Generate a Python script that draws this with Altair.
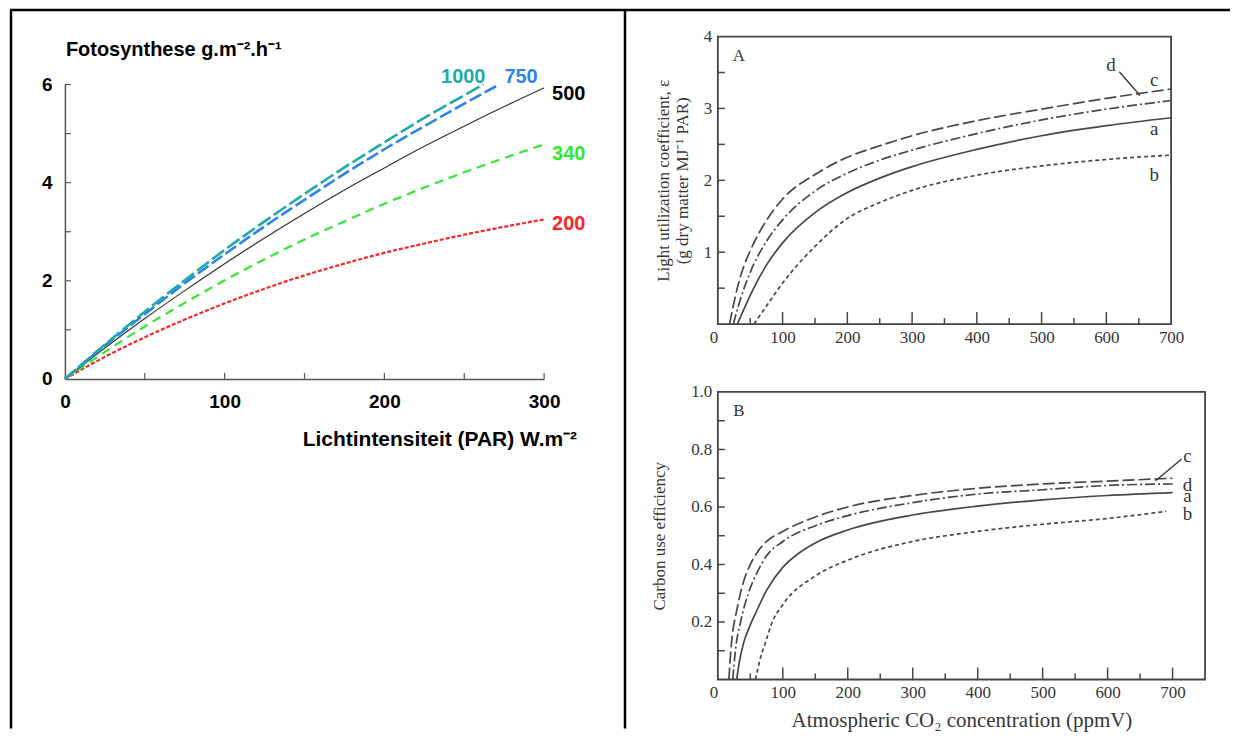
import altair as alt
import pandas as pd

# ---------------- Left panel data ----------------
PAR = [0, 25, 50, 75, 100, 125, 150, 175, 200, 225, 250, 275, 300]
P200 = [0, 0.45, 0.85, 1.21, 1.54, 1.84, 2.11, 2.35, 2.57, 2.76, 2.94, 3.10, 3.25]
P340 = [0, 0.55, 1.07, 1.55, 2.01, 2.44, 2.84, 3.21, 3.57, 3.90, 4.21, 4.50, 4.78]
P500 = [0, 0.63, 1.23, 1.80, 2.35, 2.87, 3.37, 3.85, 4.30, 4.74, 5.15, 5.55, 5.93]
PAR750 = [0, 25, 50, 75, 100, 125, 150, 175, 200, 225, 250, 272]
P750 = [0, 0.68, 1.32, 1.95, 2.54, 3.11, 3.65, 4.18, 4.68, 5.15, 5.61, 6.0]
PAR1000 = [0, 25, 50, 75, 100, 125, 150, 175, 200, 225, 250, 262]
P1000 = [0, 0.70, 1.37, 2.01, 2.63, 3.21, 3.77, 4.31, 4.82, 5.32, 5.78, 6.0]
LEFT_XLABELS = [0, 100, 200, 300]
LEFT_YLABELS = [0, 2, 4, 6]
LEFT_XTICKS = [50, 100, 150, 200, 250, 300]
LEFT_YTICKS = [1, 2, 3, 4, 5, 6]
LEFT_TITLE = "Fotosynthese g.m⁻².h⁻¹"
LEFT_XTITLE = "Lichtintensiteit (PAR) W.m⁻²"

# ---------------- Right panel A data ----------------
A_C_X = [18, 25, 30, 40, 50, 75, 100, 150, 200, 250, 300, 400, 500, 600, 700]
A_C_Y = [0, 0.3, 0.5, 0.8, 1.02, 1.44, 1.74, 2.08, 2.32, 2.48, 2.62, 2.83, 2.99, 3.14, 3.27]
A_D_X = [24, 30, 35, 50, 75, 100, 150, 200, 250, 300, 400, 500, 600, 700]
A_D_Y = [0, 0.2, 0.35, 0.72, 1.15, 1.45, 1.85, 2.1, 2.28, 2.42, 2.65, 2.84, 2.99, 3.11]
A_A_X = [30, 40, 50, 75, 100, 150, 200, 250, 300, 400, 500, 600, 700]
A_A_Y = [0, 0.2, 0.4, 0.82, 1.13, 1.55, 1.83, 2.03, 2.19, 2.43, 2.62, 2.76, 2.87]
A_B_X = [56, 75, 100, 150, 200, 250, 300, 400, 500, 600, 700]
A_B_Y = [0, 0.25, 0.57, 1.08, 1.47, 1.69, 1.86, 2.07, 2.2, 2.29, 2.35]
A_LBL = ["d", "c", "a", "b"]
A_LBL_X = [607, 674, 674, 674]
A_LBL_Y = [3.61, 3.40, 2.71, 2.08]
A_LEAD_X = [620, 652]
A_LEAD_Y = [3.51, 3.18]
A_XLABELS = [0, 100, 200, 300, 400, 500, 600, 700]
A_YLABELS = [1, 2, 3, 4]
A_XTICKS = [50, 100, 150, 200, 250, 300, 350, 400, 450, 500, 550, 600, 650]
A_YTICKS = [0.5, 1, 1.5, 2, 2.5, 3, 3.5]
A_YTITLE = ["Light utilization coefficient, ε", "(g dry matter MJ⁻¹ PAR)"]

# ---------------- Right panel B data ----------------
B_C_X = [17, 20, 30, 41, 50, 60, 75, 100, 150, 200, 300, 400, 500, 600, 700]
B_C_Y = [0, 0.1, 0.25, 0.35, 0.40, 0.44, 0.48, 0.515, 0.565, 0.6, 0.64, 0.665, 0.68, 0.69, 0.70]
B_D_X = [23, 27, 35, 47, 60, 75, 100, 150, 200, 300, 400, 500, 600, 700]
B_D_Y = [0, 0.1, 0.2, 0.3, 0.37, 0.43, 0.48, 0.535, 0.57, 0.615, 0.645, 0.66, 0.675, 0.68]
B_A_X = [29, 33, 40, 50, 60, 75, 100, 125, 150, 200, 300, 400, 500, 600, 700]
B_A_Y = [0, 0.06, 0.13, 0.19, 0.24, 0.31, 0.39, 0.44, 0.475, 0.52, 0.572, 0.603, 0.625, 0.64, 0.65]
B_B_X = [58, 65, 75, 82, 100, 150, 200, 300, 400, 500, 600, 690]
B_B_Y = [0, 0.07, 0.14, 0.19, 0.26, 0.36, 0.415, 0.48, 0.515, 0.54, 0.56, 0.585]
B_LBL = ["c", "d", "a", "b"]
B_LBL_X = [723, 723, 723, 723]
B_LBL_Y = [0.778, 0.677, 0.639, 0.576]
B_LEAD_X = [714, 674]
B_LEAD_Y = [0.767, 0.691]
B_XLABELS = [0, 100, 200, 300, 400, 500, 600, 700]
B_YLABELS = [0.2, 0.4, 0.6, 0.8, 1.0]
B_XTICKS = [50, 100, 150, 200, 250, 300, 350, 400, 450, 500, 550, 600, 650, 700]
B_YTICKS = [0.1, 0.2, 0.3, 0.4, 0.5, 0.6, 0.7, 0.8, 0.9]
B_YTITLE = "Carbon use efficiency"
B_XTITLE = "Atmospheric CO₂ concentration (ppmV)"

# ---------------- styles ----------------
SANS = "Liberation Sans"
SERIF = "Liberation Serif"
RTXT = "#363636"
RLINE = "#474747"

LW, LH = 480, 295
AW, AH = 454, 288
BW, BH = 488, 288


def df(**cols):
    return pd.DataFrame(cols)


# ================= LEFT PANEL =================
lx_scale = alt.Scale(domain=[0, 300], nice=False, zero=False)
ly_scale = alt.Scale(domain=[0, 6], nice=False, zero=False)
lx_axis = alt.Axis(values=LEFT_XLABELS, ticks=False, grid=False, domainColor="#555555",
                   domainWidth=1.5, labelFont=SANS, labelFontSize=19, labelFontWeight="bold",
                   labelColor="black", labelPadding=14, labelFlush=False, title=None)
ly_axis = alt.Axis(values=LEFT_YLABELS, ticks=False, grid=False, domainColor="#555555",
                   domainWidth=1.5, labelFont=SANS, labelFontSize=19, labelFontWeight="bold",
                   labelColor="black", labelPadding=13, labelFlush=False, title=None)


def LX(field):
    return alt.X(f"{field}:Q", scale=lx_scale, axis=lx_axis)


def LY(field):
    return alt.Y(f"{field}:Q", scale=ly_scale, axis=ly_axis)


def lline(xs, ys, color, width, dash=None):
    kw = dict(color=color, strokeWidth=width, interpolate="monotone")
    if dash:
        kw["strokeDash"] = dash
    return alt.Chart(df(x=xs, y=ys)).mark_line(**kw).encode(x=LX("x"), y=LY("y"))


left_layers = [
    alt.Chart(df(v=LEFT_XTICKS)).mark_rule(color="#555555", strokeWidth=1.2).encode(
        x=LX("v"), y=alt.value(LH), y2=alt.value(LH - 6)),
    alt.Chart(df(v=LEFT_YTICKS)).mark_rule(color="#555555", strokeWidth=1.2).encode(
        y=LY("v"), x=alt.value(0), x2=alt.value(6)),
    lline(PAR, P200, "#ff2424", 2.2, [4, 2]),
    lline(PAR, P340, "#33e833", 2.2, [9, 6]),
    lline(PAR, P500, "#333333", 1.2),
    lline(PAR750, P750, "#2b84ee", 2.6, [13, 4]),
    lline(PAR1000, P1000, "#1fa9a9", 2.6, [15, 4]),
]


def llabel(x, y, text, color, align, dx, dy, baseline="alphabetic"):
    return alt.Chart(df(x=[x], y=[y], t=[text])).mark_text(
        font=SANS, fontSize=20, fontWeight="bold", color=color, align=align,
        baseline=baseline, dx=dx, dy=dy).encode(x=LX("x"), y=LY("y"), text="t:N")


left_layers += [
    llabel(PAR1000[-1], P1000[-1], "1000", "#1fa9a9", "right", 2, -1),
    llabel(PAR750[-1], P750[-1], "750", "#2b84ee", "left", 5, -1),
    llabel(PAR[-1], P500[-1], "500", "black", "left", 8, 6, "middle"),
    llabel(PAR[-1], P340[-1], "340", "#33e833", "left", 8, 10, "middle"),
    llabel(PAR[-1], P200[-1], "200", "#ff2424", "left", 8, 5, "middle"),
    alt.Chart(df(t=[LEFT_XTITLE])).mark_text(
        font=SANS, fontSize=21, fontWeight="bold", color="black", align="right",
        baseline="middle").encode(x=alt.value(513), y=alt.value(356), text="t:N"),
    # frame of the picture (decoration)
    alt.Chart(df(k=[0])).mark_rule(color="black", strokeWidth=2.5).encode(
        x=alt.value(-54), y=alt.value(-74.5), y2=alt.value(645)),
    alt.Chart(df(k=[0])).mark_rule(color="black", strokeWidth=2.5).encode(
        x=alt.value(-55), x2=alt.value(1167), y=alt.value(-74.5)),
    alt.Chart(df(k=[0])).mark_rule(color="black", strokeWidth=2.5).encode(
        x=alt.value(561), y=alt.value(-74.5), y2=alt.value(645)),
]

left_chart = alt.layer(*left_layers).properties(width=LW, height=LH)

spacer = alt.Chart(df(t=[LEFT_TITLE])).mark_text(
    font=SANS, fontSize=20, fontWeight="bold", color="black", align="left",
    baseline="middle").encode(x=alt.value(1), y=alt.value(13), text="t:N").properties(
    width=LW, height=48)

left_col = alt.vconcat(spacer, left_chart, spacing=0, bounds="flush")


# ================= RIGHT PANELS =================
def right_panel(xmax, ymax, W, H, series, xticks, yticks, xlabels, ylabels, yfmt,
                ytitle, ytitle_pad, xtitle, lbl, lbl_x, lbl_y, lead_x, lead_y, letter):
    xs = alt.Scale(domain=[0, xmax], nice=False, zero=False)
    ys = alt.Scale(domain=[0, ymax], nice=False, zero=False)
    xaxis_kw = dict(values=xlabels, ticks=False, grid=False, domain=False, labelFont=SERIF,
                    labelFontSize=17, labelColor=RTXT, labelPadding=5, labelFlush=False,
                    labelOverlap=False,
                    labelExpr="datum.value == 0 ? '0 ' : datum.label",
                    labelAlign={"condition": {"test": "datum.value == 0", "value": "right"},
                                "value": "center"})
    if xtitle:
        xaxis_kw.update(title=xtitle, titleFont=SERIF, titleFontSize=21,
                        titleFontWeight="normal", titleColor=RTXT, titlePadding=9)
    else:
        xaxis_kw.update(title=None)
    xaxis = alt.Axis(**xaxis_kw)
    yaxis = alt.Axis(values=ylabels, ticks=False, grid=False, domain=False, labelFont=SERIF,
                     labelFontSize=17, labelColor=RTXT, labelPadding=6, labelFlush=False,
                     labelOverlap=False, format=yfmt, title=ytitle, titleFont=SERIF,
                     titleFontSize=17, titleFontWeight="normal", titleColor=RTXT,
                     titlePadding=ytitle_pad)

    def X(f):
        return alt.X(f"{f}:Q", scale=xs, axis=xaxis)

    def Y(f):
        return alt.Y(f"{f}:Q", scale=ys, axis=yaxis)

    layers = [
        alt.Chart(df(v=[t for t in xticks if t % 100 == 0])).mark_rule(
            color=RLINE, strokeWidth=1.5).encode(x=X("v"), y=alt.value(H), y2=alt.value(H - 12)),
        alt.Chart(df(v=[t for t in xticks if t % 100 != 0])).mark_rule(
            color=RLINE, strokeWidth=1.5).encode(x=X("v"), y=alt.value(H), y2=alt.value(H - 6)),
        alt.Chart(df(v=yticks)).mark_rule(color=RLINE, strokeWidth=1.5).encode(
            y=Y("v"), x=alt.value(0), x2=alt.value(7)),
    ]
    for sx, sy, dash in series:
        kw = dict(color=RLINE, strokeWidth=1.7, interpolate="monotone")
        if dash:
            kw["strokeDash"] = dash
        layers.append(alt.Chart(df(x=sx, y=sy)).mark_line(**kw).encode(x=X("x"), y=Y("y")))
    layers.append(alt.Chart(df(x=lbl_x, y=lbl_y, t=lbl)).mark_text(
        font=SERIF, fontSize=19, color=RTXT, align="center", baseline="middle").encode(
        x=X("x"), y=Y("y"), text="t:N"))
    layers.append(alt.Chart(df(x=[lead_x[0]], y=[lead_y[0]], x2=[lead_x[1]], y2=[lead_y[1]]))
                  .mark_rule(color="#333333", strokeWidth=1.3).encode(
        x=X("x"), y=Y("y"), x2="x2:Q", y2="y2:Q"))
    layers.append(alt.Chart(df(t=[letter])).mark_text(
        font=SERIF, fontSize=17, color=RTXT, align="center", baseline="middle").encode(
        x=alt.value(21), y=alt.value(19), text="t:N"))
    return alt.layer(*layers).properties(
        width=W, height=H, view=alt.ViewBackground(stroke="#444444", strokeWidth=1.8))


panel_a = right_panel(
    700, 4, AW, AH,
    [(A_C_X, A_C_Y, [12, 4]), (A_D_X, A_D_Y, [10, 3, 2, 3]), (A_A_X, A_A_Y, None),
     (A_B_X, A_B_Y, [4, 3])],
    A_XTICKS, A_YTICKS, A_XLABELS, A_YLABELS, "d", A_YTITLE, 12, None,
    A_LBL, A_LBL_X, A_LBL_Y, A_LEAD_X, A_LEAD_Y, "A")

panel_b = right_panel(
    750, 1.0, BW, BH,
    [(B_C_X, B_C_Y, [12, 4]), (B_D_X, B_D_Y, [10, 3, 2, 3]), (B_A_X, B_A_Y, None),
     (B_B_X, B_B_Y, [4, 3])],
    B_XTICKS, B_YTICKS, B_XLABELS, B_YLABELS, ".1f", B_YTITLE, 22, B_XTITLE,
    B_LBL, B_LBL_X, B_LBL_Y, B_LEAD_X, B_LEAD_Y, "B")

right_col = alt.vconcat(panel_a, panel_b, spacing=68, bounds="flush")

chart = alt.hconcat(left_col, right_col, spacing=654, bounds="flush").properties(
    padding=0,
    background="white",
).configure_view(stroke=None)

chart.save("out.html", embed_options={"renderer": "svg", "actions": False})
